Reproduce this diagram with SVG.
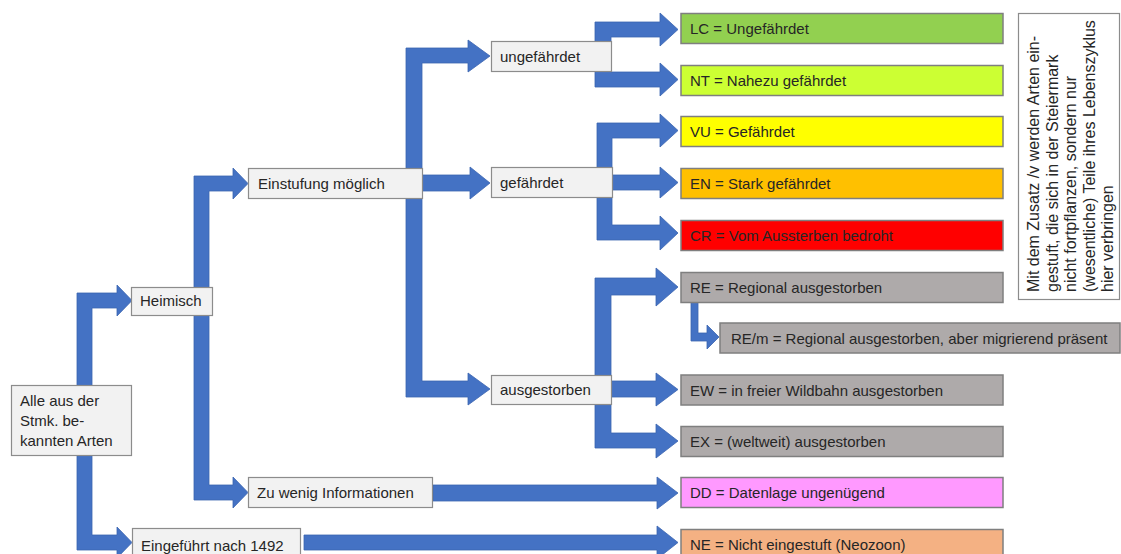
<svg xmlns="http://www.w3.org/2000/svg" width="1121" height="554" viewBox="0 0 1121 554">
<style>
.arr{fill:#4472C4;stroke:#3B65B0;stroke-width:0.8;stroke-linejoin:miter}
.lb{fill:#F2F2F2;stroke:#8C8C8C;stroke-width:1.2}
.cb{stroke:#7F7F7F;stroke-width:1.5}
.t{font-family:"Liberation Sans",Arial,sans-serif;font-size:15px;fill:#262626}
.n{font-family:"Liberation Sans",Arial,sans-serif;font-size:16px;fill:#262626}
</style>
<rect x="0" y="0" width="1121" height="554" fill="#FFFFFF"/>
<g id="connectors">
<polygon class="arr" points="77,420 77,293 117,293 117,285 132,300.5 117,316 117,308 92,308 92,420"/>
<polygon class="arr" points="77,420 77,550 117,550 117,558 132,542.5 117,527 117,535 92,535 92,420"/>
<polygon class="arr" points="194,300 194,176 233,176 233,168 248,183.5 233,199 233,191 209,191 209,300"/>
<polygon class="arr" points="194,300 194,500 233,500 233,508 248,492.5 233,477 233,485 209,485 209,300"/>
<polygon class="arr" points="406,183 406,48 468,48 468,40 490,56 468,72 468,63 422,63 422,183"/>
<polygon class="arr" points="420,175 470,175 470,167 490,183 470,199 470,191 420,191"/>
<polygon class="arr" points="406,183 406,397 468,397 468,405 490,389 468,373 468,381 422,381 422,183"/>
<polygon class="arr" points="595,56 595,22 660,22 660,13 678,29.5 660,46 660,37 611,37 611,56"/>
<polygon class="arr" points="595,56 595,87 660,87 660,96 678,79.5 660,63 660,72 611,72 611,56"/>
<polygon class="arr" points="597,183 597,123 660,123 660,114 678,130.5 660,147 660,138 612,138 612,183"/>
<polygon class="arr" points="612,175 660,175 660,167 678,182.5 660,198 660,190 612,190"/>
<polygon class="arr" points="597,183 597,240 660,240 660,250 678,233 660,216 660,225 612,225 612,183"/>
<polygon class="arr" points="595,389 595,278 656,278 656,268 678,287 656,306 656,295 611,295 611,389"/>
<polygon class="arr" points="611,381 656,381 656,373 678,389.5 656,406 656,397 611,397"/>
<polygon class="arr" points="595,389 595,448 656,448 656,458 678,441 656,424 656,433 611,433 611,389"/>
<polygon class="arr" points="691,302 691,341 707,341 707,349 719,337 707,325 707,333 698,333 698,302"/>
<polygon class="arr" points="433,485 657,485 657,477 678,493 657,509 657,501 433,501"/>
<polygon class="arr" points="304,535 657,535 657,526 678,542.5 657,559 657,550 304,550"/>
</g>
<g id="alle"><rect class="lb" x="11.5" y="385.5" width="120" height="70"/>
<text class="t" x="20" y="406">Alle aus der</text><text class="t" x="20" y="426">Stmk. be-</text><text class="t" x="20" y="446">kannten Arten</text></g>
<g id="heimisch"><rect class="lb" x="131.5" y="287.5" width="81" height="28"/><text class="t" x="140" y="306">Heimisch</text></g>
<g id="eingefuehrt"><rect class="lb" x="132.5" y="528.5" width="168" height="32"/><text class="t" x="141" y="551">Eingeführt nach 1492</text></g>
<g id="einstufung"><rect class="lb" x="248.5" y="168.5" width="174" height="30"/><text class="t" x="258" y="188.5">Einstufung möglich</text></g>
<g id="zuwenig"><rect class="lb" x="248.5" y="477.5" width="184" height="30"/><text class="t" x="257" y="497.5">Zu wenig Informationen</text></g>
<g id="ungefaehrdet"><rect class="lb" x="491.5" y="41.5" width="120" height="30"/><text class="t" x="500" y="61.5">ungefährdet</text></g>
<g id="gefaehrdet"><rect class="lb" x="491.5" y="167.5" width="121" height="30"/><text class="t" x="500" y="188">gefährdet</text></g>
<g id="ausgestorben"><rect class="lb" x="491.5" y="375.5" width="120" height="29"/><text class="t" x="500" y="395">ausgestorben</text></g>
<g id="lc"><rect class="cb" fill="#92D050" x="681" y="13.5" width="322" height="30"/><text class="t" x="690" y="34">LC = Ungefährdet</text></g>
<g id="nt"><rect class="cb" fill="#CCFF33" x="681" y="65.5" width="322" height="30"/><text class="t" x="690" y="86">NT = Nahezu gefährdet</text></g>
<g id="vu"><rect class="cb" fill="#FFFF00" x="681" y="116.5" width="322" height="30"/><text class="t" x="690" y="137">VU = Gefährdet</text></g>
<g id="en"><rect class="cb" fill="#FFC000" x="681" y="168.5" width="322" height="30"/><text class="t" x="690" y="189">EN = Stark gefährdet</text></g>
<g id="cr"><rect class="cb" fill="#FF0000" x="681" y="220.5" width="322" height="30"/><text class="t" x="690" y="241">CR = Vom Aussterben bedroht</text></g>
<g id="re"><rect class="cb" fill="#AEAAAA" x="681" y="272.5" width="322" height="30"/><text class="t" x="690" y="293">RE = Regional ausgestorben</text></g>
<g id="rem"><rect class="cb" fill="#AEAAAA" x="720" y="323" width="400" height="30"/><text class="t" x="731" y="343.5">RE/m = Regional ausgestorben, aber migrierend präsent</text></g>
<g id="ew"><rect class="cb" fill="#AEAAAA" x="681" y="375" width="322" height="30"/><text class="t" x="690" y="395.5">EW = in freier Wildbahn ausgestorben</text></g>
<g id="ex"><rect class="cb" fill="#AEAAAA" x="681" y="426.5" width="322" height="30"/><text class="t" x="690" y="447">EX = (weltweit) ausgestorben</text></g>
<g id="dd"><rect class="cb" fill="#FF99FF" x="681" y="477.5" width="322" height="30"/><text class="t" x="690" y="498">DD = Datenlage ungenügend</text></g>
<g id="ne"><rect class="cb" fill="#F4B183" x="681" y="529.5" width="322" height="30"/><text class="t" x="690" y="550">NE = Nicht eingestuft (Neozoon)</text></g>
<g id="note"><rect fill="#FFFFFF" stroke="#8C8C8C" stroke-width="1.2" x="1018.5" y="13.5" width="101" height="286"/>
<text class="n" transform="translate(1039,292) rotate(-90)"><tspan x="0" y="0">Mit dem Zusatz /v werden Arten ein-</tspan><tspan x="0" y="18.5">gestuft, die sich in der Steiermark</tspan><tspan x="0" y="37">nicht fortpflanzen, sondern nur</tspan><tspan x="0" y="55.5">(wesentliche) Teile ihres Lebenszyklus</tspan><tspan x="0" y="74">hier verbringen</tspan></text></g>
</svg>
